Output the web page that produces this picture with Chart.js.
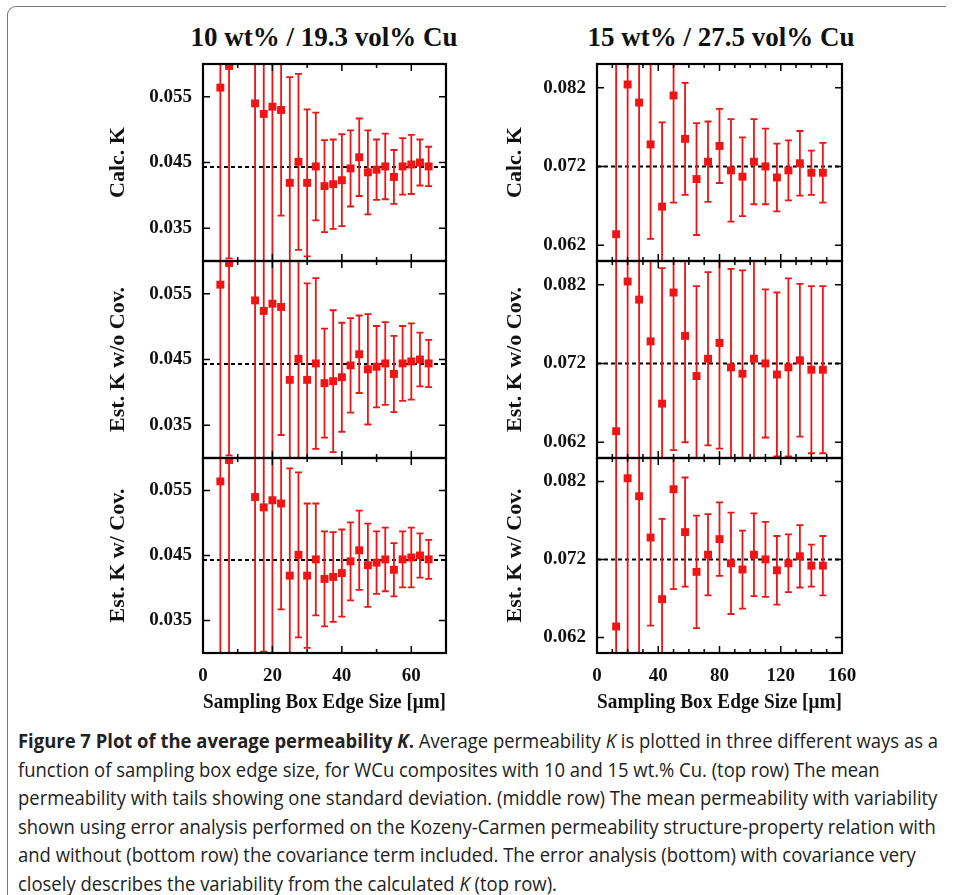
<!DOCTYPE html>
<html>
<head>
<meta charset="utf-8">
<script src="https://cdn.jsdelivr.net/npm/chart.js@4"></script>
<style>
  body { margin: 0; background: #fff; width: 954px; height: 895px; overflow: hidden; position: relative; }
  .frame { position: absolute; left: 7px; top: 6px; width: 938px; height: 900px;
           border-left: 1.5px solid #777; border-top: 1.5px solid #777; border-top-left-radius: 9px; }
  canvas { position: absolute; }
  .ttl { position: absolute; top: 22px; width: 320px; text-align: center;
         font: bold 27px "Liberation Serif", serif; color: #111; }
  .cap { position: absolute; left: 18px; white-space: nowrap; transform-origin: 0 50%;
         font: 20px "Liberation Sans Narrow", "Open Sans", sans-serif; color: #222; line-height: 28px; }
</style>
</head>
<body>
<div class="frame"></div>
<div class="ttl" style="left:164px">10 wt% / 19.3 vol% Cu</div>
<div class="ttl" style="left:561px">15 wt% / 27.5 vol% Cu</div>

<canvas id="l1" width="363" height="245" style="left:95px;top:40px"></canvas>
<canvas id="l2" width="363" height="245" style="left:95px;top:237px"></canvas>
<canvas id="l3" width="363" height="283" style="left:95px;top:434px"></canvas>
<canvas id="r1" width="382" height="245" style="left:490px;top:40px"></canvas>
<canvas id="r2" width="382" height="245" style="left:490px;top:237px"></canvas>
<canvas id="r3" width="382" height="283" style="left:490px;top:434px"></canvas>

<div id="caption"></div>

<script>
// 10 wt% Cu column
const sizes10 = [5, 7.5, 15, 17.5, 20, 22.5, 25, 27.5, 30, 32.5, 35, 37.5, 40, 42.5, 45, 47.5, 50, 52.5, 55, 57.5, 60, 62.5, 65]
const meanK10 = [0.0564, 0.0597, 0.0540, 0.0524, 0.0535, 0.0530, 0.0419, 0.0451, 0.0419, 0.0444, 0.0414, 0.0417, 0.0423, 0.0441, 0.0458, 0.0435, 0.0439, 0.0444, 0.0428, 0.0444, 0.0447, 0.0450, 0.0444]
const sdCalc10 = [0.030, 0.0293, 0.026, 0.025, 0.025, 0.0161, 0.0161, 0.0134, 0.0112, 0.0082, 0.0070, 0.0068, 0.0070, 0.0058, 0.0059, 0.0064, 0.0046, 0.0050, 0.0041, 0.0043, 0.0045, 0.0035, 0.0030]
const sdNoCov10 = [0.030, 0.0293, 0.026, 0.025, 0.025, 0.0195, 0.020, 0.018, 0.0147, 0.013, 0.0083, 0.0108, 0.0083, 0.0072, 0.0059, 0.0084, 0.0062, 0.0063, 0.0058, 0.0057, 0.0058, 0.0041, 0.0036]
const sdCov10 = [0.030, 0.031, 0.026, 0.0222, 0.024, 0.0163, 0.0165, 0.0127, 0.0111, 0.0086, 0.0073, 0.0069, 0.0067, 0.0060, 0.0061, 0.0064, 0.0048, 0.0049, 0.0041, 0.0043, 0.0046, 0.0034, 0.0030]
const refK10 = 0.0443
const yTicks10 = [0.035, 0.045, 0.055]
const xTicks10 = [0, 20, 40, 60]

// 15 wt% Cu column
const sizes15 = [12.5, 20, 27.5, 35, 42.5, 50, 57.5, 65, 72.5, 80, 87.5, 95, 102.5, 110, 117.5, 125, 132.5, 140, 147.5]
const meanK15 = [0.0634, 0.0824, 0.0801, 0.0748, 0.0669, 0.0810, 0.0755, 0.0704, 0.0726, 0.0746, 0.0715, 0.0707, 0.0726, 0.0720, 0.0706, 0.0715, 0.0724, 0.0712, 0.0712]
const sdCalc15 = [0.024, 0.024, 0.022, 0.012, 0.0107, 0.0136, 0.0071, 0.0071, 0.0051, 0.0047, 0.0065, 0.0050, 0.0054, 0.0048, 0.0043, 0.0038, 0.0041, 0.0028, 0.0038]
const sdNoCov15 = [0.024, 0.024, 0.022, 0.016, 0.0172, 0.020, 0.0135, 0.0114, 0.011, 0.0134, 0.0125, 0.0131, 0.0135, 0.0094, 0.0104, 0.0113, 0.0097, 0.0106, 0.0106]
const sdCov15 = [0.024, 0.024, 0.022, 0.0113, 0.0103, 0.0128, 0.0070, 0.0072, 0.0052, 0.0047, 0.0065, 0.0050, 0.0053, 0.0048, 0.0044, 0.0037, 0.0040, 0.0027, 0.0038]
const refK15 = 0.072
const yTicks15 = [0.062, 0.072, 0.082]
const xTicks15 = [0, 40, 80, 120, 160]

const rowLabels = ['Calc. K', 'Est. K w/o Cov.', 'Est. K w/ Cov.']
const xTitle = 'Sampling Box Edge Size [\u03bcm]'

const captionLines = [
  '<b>Figure 7 Plot of the average permeability <i>K</i>.</b> Average permeability <i>K</i> is plotted in three different ways as a',
  'function of sampling box edge size, for WCu composites with 10 and 15 wt.% Cu. (top row) The mean',
  'permeability with tails showing one standard deviation. (middle row) The mean permeability with variability',
  'shown using error analysis performed on the Kozeny-Carmen permeability structure-property relation with',
  'and without (bottom row) the covariance term included. The error analysis (bottom) with covariance very',
  'closely describes the variability from the calculated <i>K</i> (top row).'
]

const serif = '"Liberation Serif", "Times New Roman", serif'
const red = '#f01414'

// error bars, dashed reference line, boxed frame with inward ticks (gnuplot look)
const panelDecor = {
  id: 'panelDecor',
  beforeDatasetsDraw(chart, args, opts) {
    const {ctx, chartArea: a, scales: {x, y}} = chart
    ctx.save()
    ctx.beginPath()
    ctx.rect(a.left, a.top, a.right - a.left, a.bottom - a.top)
    ctx.clip()

    const yr = y.getPixelForValue(opts.refLine)
    ctx.strokeStyle = '#000'
    ctx.lineWidth = 2
    ctx.setLineDash([4, 3])
    ctx.beginPath()
    ctx.moveTo(a.left, yr)
    ctx.lineTo(a.right, yr)
    ctx.stroke()
    ctx.setLineDash([])

    const ds = chart.data.datasets[0]
    ctx.strokeStyle = red
    ctx.lineWidth = 1.8
    ds.data.forEach((p, i) => {
      const e = opts.errors[i]
      const px = x.getPixelForValue(p.x)
      const top = y.getPixelForValue(p.y + e)
      const bot = y.getPixelForValue(p.y - e)
      ctx.beginPath()
      ctx.moveTo(px, top)
      ctx.lineTo(px, bot)
      ctx.moveTo(px - 3.5, top)
      ctx.lineTo(px + 3.5, top)
      ctx.moveTo(px - 3.5, bot)
      ctx.lineTo(px + 3.5, bot)
      ctx.stroke()
    })
    ctx.restore()
  },
  afterDraw(chart, args, opts) {
    const {ctx, chartArea: a, scales: {x, y}} = chart
    ctx.save()
    ctx.strokeStyle = '#000'
    ctx.lineWidth = 1.5
    ctx.beginPath()
    for (let v = x.min + opts.minorStep; v < x.max; v += opts.minorStep) {
      const px = x.getPixelForValue(v)
      const len = opts.xTicks.includes(v) ? 7 : 4
      ctx.moveTo(px, a.bottom)
      ctx.lineTo(px, a.bottom - len)
      ctx.moveTo(px, a.top)
      ctx.lineTo(px, a.top + len)
    }
    opts.yTicks.forEach(v => {
      const py = y.getPixelForValue(v)
      ctx.moveTo(a.left, py)
      ctx.lineTo(a.left + 7, py)
      ctx.moveTo(a.right, py)
      ctx.lineTo(a.right - 7, py)
    })
    ctx.stroke()
    ctx.lineWidth = 2.2
    ctx.strokeRect(a.left, a.top, a.right - a.left, a.bottom - a.top)
    ctx.restore()
  }
}

function makePanel(id, col, row) {
  const left = col === 0
  const xs = left ? sizes10 : sizes15
  const ks = left ? meanK10 : meanK15
  const errs = left ? [sdCalc10, sdNoCov10, sdCov10][row] : [sdCalc15, sdNoCov15, sdCov15][row]
  const yTicks = left ? yTicks10 : yTicks15
  const xTicks = left ? xTicks10 : xTicks15
  const bottomRow = row === 2

  return new Chart(document.getElementById(id), {
    type: 'scatter',
    data: {
      datasets: [{
        data: xs.map((v, i) => ({x: v, y: ks[i]})),
        pointStyle: 'rect',
        pointRadius: 5.6,
        pointHoverRadius: 5.6,
        backgroundColor: red,
        borderColor: red,
        borderWidth: 0,
        showLine: false
      }]
    },
    options: {
      responsive: false,
      animation: false,
      events: [],
      layout: {padding: {top: 24, bottom: bottomRow ? 0 : 24, left: 0, right: left ? 12 : 30}},
      plugins: {
        legend: {display: false},
        tooltip: {enabled: false},
        panelDecor: {
          errors: errs,
          refLine: left ? refK10 : refK15,
          yTicks: yTicks,
          xTicks: xTicks,
          minorStep: 10
        }
      },
      scales: {
        x: {
          type: 'linear',
          display: bottomRow,
          min: 0,
          max: left ? 70 : 160,
          afterBuildTicks: s => { s.ticks = xTicks.map(v => ({value: v})) },
          afterFit: s => { if (bottomRow) s.height = 64 },
          grid: {display: false, drawTicks: false},
          border: {display: false},
          ticks: {
            padding: 12,
            color: '#111',
            font: {family: serif, size: 19, weight: 'bold'},
            maxRotation: 0
          },
          title: {
            display: true,
            text: xTitle,
            color: '#111',
            padding: {top: 0, bottom: 1},
            font: {family: serif, size: 22, weight: 'bold'}
          }
        },
        y: {
          type: 'linear',
          min: left ? 0.030 : 0.060,
          max: left ? 0.060 : 0.085,
          afterBuildTicks: s => { s.ticks = yTicks.map(v => ({value: v})) },
          afterFit: s => { s.width = left ? 108 : 107 },
          grid: {display: false, drawTicks: false},
          border: {display: false},
          ticks: {
            padding: 11,
            color: '#111',
            font: {family: serif, size: 19, weight: 'bold'},
            callback: v => v.toFixed(3)
          },
          title: {
            display: true,
            text: rowLabels[row],
            color: '#111',
            padding: {top: left ? 10 : 12, bottom: 0},
            font: {family: serif, size: 22, weight: 'bold'}
          }
        }
      }
    },
    plugins: [panelDecor]
  })
}

makePanel('l1', 0, 0)
makePanel('l2', 0, 1)
makePanel('l3', 0, 2)
makePanel('r1', 1, 0)
makePanel('r2', 1, 1)
makePanel('r3', 1, 2)

// caption, squeezed to the width of the original narrow face
const capBox = document.getElementById('caption')
const lineDivs = captionLines.map((html, i) => {
  const d = document.createElement('div')
  d.className = 'cap'
  d.style.top = (727 + i * 28.6) + 'px'
  d.innerHTML = html
  capBox.appendChild(d)
  return d
})
const w0 = lineDivs[0].getBoundingClientRect().width
const sx = 920 / w0
lineDivs.forEach(d => { d.style.transform = `scaleX(${sx})` })
</script>
</body>
</html>
